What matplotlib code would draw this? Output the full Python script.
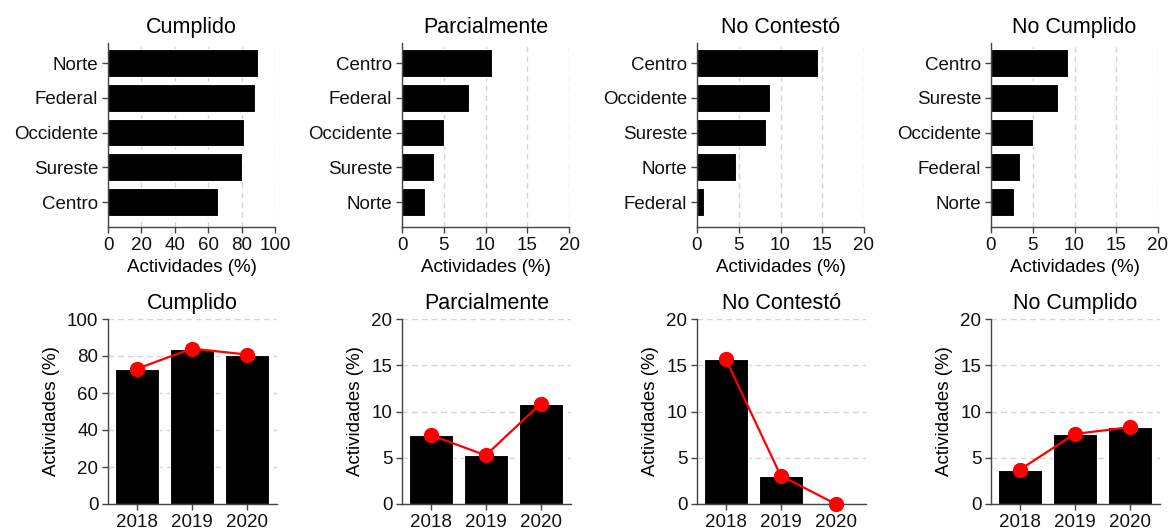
import numpy as np
import matplotlib
matplotlib.use("Agg")
import matplotlib.pyplot as plt

plt.rcParams['font.family'] = ['Liberation Sans', 'DejaVu Sans']

# ---------- datos ----------
titulos = ["Cumplido", "Parcialmente", "No Contestó", "No Cumplido"]

# fila superior: regiones ordenadas de mayor a menor
reg_cumplido = ["Norte", "Federal", "Occidente", "Sureste", "Centro"]
val_cumplido = [90.0, 88.0, 81.4, 80.4, 65.6]

reg_parcial = ["Centro", "Federal", "Occidente", "Sureste", "Norte"]
val_parcial = [10.8, 8.05, 5.0, 3.8, 2.8]

reg_nocontesto = ["Centro", "Occidente", "Sureste", "Norte", "Federal"]
val_nocontesto = [14.5, 8.75, 8.3, 4.65, 0.8]

reg_nocumplido = ["Centro", "Sureste", "Occidente", "Federal", "Norte"]
val_nocumplido = [9.2, 8.0, 5.0, 3.45, 2.8]

# fila inferior: por año
anios = ["2018", "2019", "2020"]
anual_cumplido = [73.0, 84.0, 80.8]
anual_parcial = [7.46, 5.26, 10.85]
anual_nocontesto = [15.7, 3.06, 0.0]
anual_nocumplido = [3.7, 7.57, 8.3]

regiones = [reg_cumplido, reg_parcial, reg_nocontesto, reg_nocumplido]
valores = [val_cumplido, val_parcial, val_nocontesto, val_nocumplido]
anuales = [anual_cumplido, anual_parcial, anual_nocontesto, anual_nocumplido]
limites = [100, 20, 20, 20]
pasos = [20, 5, 5, 5]

W, H = 1171, 529
fig = plt.figure(figsize=(W / 100, H / 100), dpi=100)

lefts = [108, 402, 697, 991]
ancho = 167
fs_tick = 13.5
fs_title = 15.5
gris = "#d4d4d4"


def estilo(ax):
    for s in ["top", "right"]:
        ax.spines[s].set_visible(False)
    for s in ["left", "bottom"]:
        ax.spines[s].set_color("#444444")
        ax.spines[s].set_linewidth(1.0)
    ax.tick_params(labelsize=fs_tick, length=4, width=1, color="#444444",
                   labelcolor="#111111", pad=3)
    ax.set_axisbelow(True)


for i in range(4):
    # ---------- fila superior ----------
    ax = fig.add_axes([lefts[i] / W, 1 - 227 / H, ancho / W, (227 - 43) / H])
    estilo(ax)
    pos = np.arange(len(regiones[i]))
    ax.barh(pos, valores[i], height=0.8, color="black", edgecolor="white", linewidth=0.8)
    ax.set_yticks(pos)
    ax.set_yticklabels(regiones[i])
    ax.set_ylim(4.72, -0.58)
    ax.set_xlim(0, limites[i])
    ax.set_xticks(np.arange(0, limites[i] + 1, pasos[i]))
    ax.grid(axis="x", color=gris, linestyle=(0, (4, 3)), linewidth=1)
    ax.set_xlabel("Actividades (%)", fontsize=fs_tick, labelpad=4)
    ax.set_title(titulos[i], fontsize=fs_title, pad=7)

    # ---------- fila inferior ----------
    ax2 = fig.add_axes([lefts[i] / W, 1 - 504 / H, (ancho + 2) / W, (504 - 319) / H])
    estilo(ax2)
    x = np.arange(len(anios))
    ax2.bar(x, anuales[i], width=0.8, color="black", edgecolor="white", linewidth=0.8)
    ax2.plot(x, anuales[i], color="red", marker="o", markersize=10, linewidth=1.6,
             clip_on=False, zorder=5)
    ax2.set_xticks(x)
    ax2.set_xticklabels(anios)
    ax2.set_xlim(-0.52, 2.55)
    ax2.set_ylim(0, limites[i])
    ax2.set_yticks(np.arange(0, limites[i] + 1, pasos[i]))
    ax2.grid(axis="y", color=gris, linestyle=(0, (4, 3)), linewidth=1)
    ax2.set_ylabel("Actividades (%)", fontsize=fs_tick, labelpad=5)
    ax2.set_title(titulos[i], fontsize=fs_title, pad=7)

fig.savefig("out.png", dpi=100)
